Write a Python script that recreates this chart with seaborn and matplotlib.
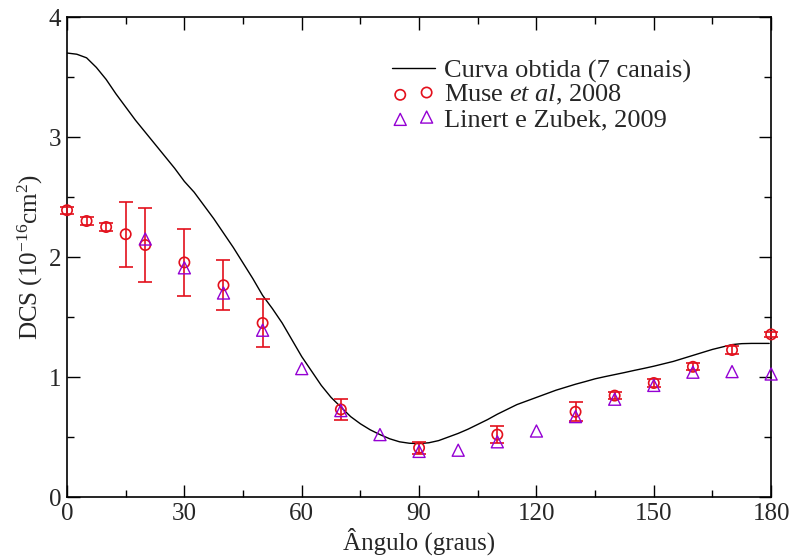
import numpy as np
import pandas as pd
import matplotlib
matplotlib.use("Agg")
import matplotlib.pyplot as plt
from matplotlib.ticker import MultipleLocator
import seaborn as sns

# ---- data ----
curve_angle = [0, 2.5, 5, 7.5, 10, 12.5, 15, 17.5, 20, 22.5, 25, 27.5, 30, 32.5, 35, 37.5,
               40, 42.5, 45, 47.5, 50, 52.5, 55, 57.5, 60, 62.5, 65, 67.5, 70, 72.5, 75,
               77.5, 80, 82.5, 85, 87.5, 90, 92.5, 95, 97.5, 100, 102.5, 105, 107.5, 110,
               112.5, 115, 117.5, 120, 122.5, 125, 127.5, 130, 132.5, 135, 137.5, 140,
               142.5, 145, 147.5, 150, 152.5, 155, 157.5, 160, 162.5, 165, 167.5, 170,
               172.5, 175, 177.5, 179.5]
curve_dcs = [3.70, 3.69, 3.66, 3.58, 3.48, 3.36, 3.25, 3.14, 3.04, 2.94, 2.84, 2.74, 2.63,
             2.54, 2.43, 2.32, 2.20, 2.08, 1.95, 1.82, 1.68, 1.57, 1.45, 1.31, 1.17, 1.05,
             0.93, 0.83, 0.75, 0.67, 0.61, 0.56, 0.52, 0.485, 0.46, 0.448, 0.445, 0.452,
             0.47, 0.50, 0.53, 0.565, 0.605, 0.645, 0.69, 0.73, 0.77, 0.80, 0.83, 0.86,
             0.89, 0.915, 0.94, 0.962, 0.985, 1.003, 1.02, 1.037, 1.055, 1.072, 1.09, 1.11,
             1.13, 1.155, 1.18, 1.205, 1.23, 1.25, 1.27, 1.278, 1.28, 1.28, 1.28]

muse_angle = [0, 5, 10, 15, 20, 30, 40, 50, 70, 90, 110, 130, 140, 150, 160, 170, 180]
muse_dcs = [2.39, 2.30, 2.25, 2.19, 2.10, 1.955, 1.765, 1.45, 0.73, 0.41, 0.52, 0.71,
            0.845, 0.95, 1.085, 1.225, 1.355]
muse_err = [0.03, 0.03, 0.03, 0.27, 0.31, 0.28, 0.21, 0.20, 0.09, 0.05, 0.07, 0.08,
            0.03, 0.03, 0.03, 0.03, 0.02]

linert_angle = [20, 30, 40, 50, 60, 70, 80, 90, 100, 110, 120, 130, 140, 150, 160, 170, 180]
linert_dcs = [2.15, 1.91, 1.70, 1.39, 1.07, 0.72, 0.52, 0.38, 0.39, 0.46, 0.55, 0.67,
              0.815, 0.93, 1.04, 1.045, 1.025]

label_curve = "Curva obtida (7 canais)"
label_muse = "Muse $\\it{et\\ al}$, 2008"
label_linert = "Linert e Zubek, 2009"

RED = "#e3101c"
VIOLET = "#9400d3"

sns.set_style("white")
plt.rcParams["font.family"] = ["Liberation Serif", "DejaVu Serif"]
plt.rcParams["mathtext.fontset"] = "custom"
plt.rcParams["mathtext.rm"] = "Liberation Serif"
plt.rcParams["mathtext.it"] = "Liberation Serif:italic"
plt.rcParams["mathtext.bf"] = "Liberation Serif:bold"

fig = plt.figure(figsize=(7.95, 5.6), dpi=100)
ax = fig.add_axes([0.0843, 0.1125, 0.8857, 0.8571])

df_curve = pd.DataFrame({"ang": curve_angle, "dcs": curve_dcs})
df_muse = pd.DataFrame({"ang": muse_angle, "dcs": muse_dcs, "err": muse_err})
df_lin = pd.DataFrame({"ang": linert_angle, "dcs": linert_dcs})

sns.lineplot(data=df_curve, x="ang", y="dcs", ax=ax, color="black", linewidth=1.0,
             label=label_curve, zorder=2)
ax.errorbar(df_muse["ang"], df_muse["dcs"], yerr=df_muse["err"], fmt="none",
            ecolor=RED, elinewidth=1.2, capsize=5, capthick=1.2, zorder=3, clip_on=False)
sns.scatterplot(data=df_muse, x="ang", y="dcs", ax=ax, marker="o", s=55,
                facecolor="none", edgecolor=RED, linewidth=1.2, label=label_muse,
                zorder=4, clip_on=False)
sns.scatterplot(data=df_lin, x="ang", y="dcs", ax=ax, marker="^", s=75,
                facecolor="none", edgecolor=VIOLET, linewidth=1.0, label=label_linert,
                zorder=4, clip_on=False)

ax.set_xlim(0, 180)
ax.set_ylim(0, 4)
ax.xaxis.set_major_locator(MultipleLocator(30))
ax.xaxis.set_minor_locator(MultipleLocator(15))
ax.yaxis.set_major_locator(MultipleLocator(1))
ax.yaxis.set_minor_locator(MultipleLocator(0.5))
ax.tick_params(which="both", direction="in", top=True, right=True, bottom=True, left=True,
               labelsize=18, width=1.0, color="black")
ax.tick_params(which="major", length=9, pad=4)
ax.tick_params(which="minor", length=5)
for s in ax.spines.values():
    s.set_color("black")
    s.set_linewidth(1.2)

ax.set_xlabel("Ângulo (graus)", fontsize=18, labelpad=2)
ax.set_ylabel("DCS (10$^{-16}$cm$^{2}$)", fontsize=18, labelpad=3)

leg = ax.legend(loc="upper left", bbox_to_anchor=(0.447, 0.935), frameon=False,
                fontsize=19, handlelength=1.6, handletextpad=0.35, labelspacing=0.02,
                scatterpoints=2, borderaxespad=0)

fig.savefig("out.png", dpi=100)
